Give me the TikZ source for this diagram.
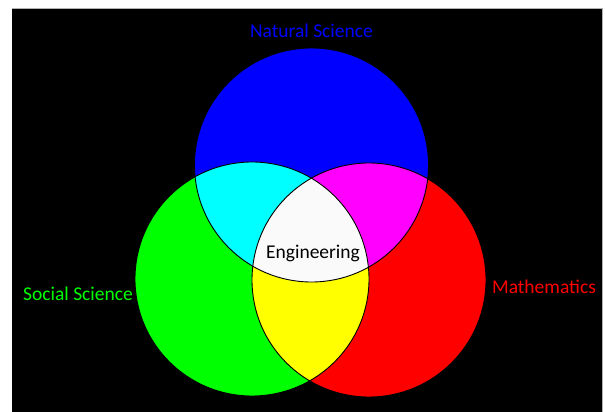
\documentclass[tikz,border=0pt]{standalone}
\usepackage{fontspec}
\setmainfont{Carlito}
\tikzset{
  outline/.style={draw=black, line width=0.9pt},
  lbl/.style={font=\fontsize{19.5}{23}\selectfont, inner sep=0pt, anchor=base}
}
\definecolor{natblue}{RGB}{0,0,255}
\definecolor{socgreen}{RGB}{0,255,0}
\definecolor{mathred}{RGB}{255,0,0}
\definecolor{ovcyan}{RGB}{0,255,255}
\definecolor{ovmagenta}{RGB}{255,0,255}
\definecolor{ovyellow}{RGB}{255,255,0}
\definecolor{engwhite}{RGB}{250,250,250}
\begin{document}
\begin{tikzpicture}[x=1pt,y=-1pt]
\useasboundingbox (0,0) rectangle (605,412);
\fill[white] (0,0) rectangle (605,412);
\fill[black] (12,9) rectangle (602,412);
\draw[gray!60, line width=1pt] (12,9) -- (602,9) -- (602,412);
\coordinate (N) at (311.5,165);
\coordinate (S) at (252,279);
\coordinate (M) at (369,280);
\def\R{117pt}
% base circles
\fill[natblue] (N) circle[radius=\R];
\fill[socgreen] (S) circle[radius=\R];
\fill[mathred] (M) circle[radius=\R];
% pairwise intersections
\begin{scope}
  \clip (N) circle[radius=\R];
  \fill[ovcyan] (S) circle[radius=\R];
  \fill[ovmagenta] (M) circle[radius=\R];
\end{scope}
\begin{scope}
  \clip (S) circle[radius=\R];
  \fill[ovyellow] (M) circle[radius=\R];
  \clip (M) circle[radius=\R];
  \fill[engwhite] (N) circle[radius=\R];
\end{scope}
% outlines
\draw[outline] (N) circle[radius=\R];
\draw[outline] (S) circle[radius=\R];
\draw[outline] (M) circle[radius=\R];
% labels
\node[lbl, text=natblue] (ns) at (311.5,38) {Natural Science};
\node[lbl, text=socgreen] (ss) at (78,300) {Social Science};
\node[lbl, text=mathred] (ma) at (544,293) {Mathematics};
\node[lbl, text=black] (en) at (313,258) {Engineering};
\end{tikzpicture}
\end{document}
